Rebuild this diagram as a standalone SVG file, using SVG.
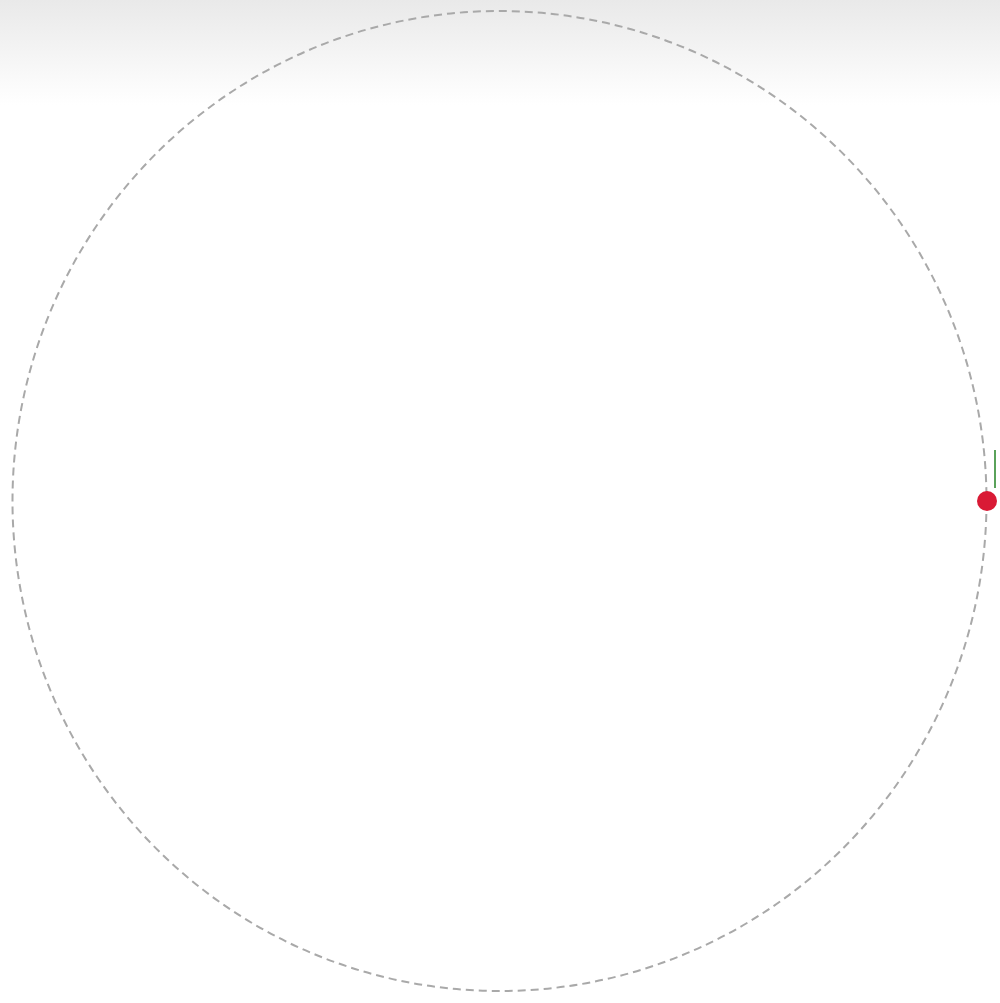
<svg xmlns="http://www.w3.org/2000/svg" width="1000" height="1003" viewBox="0 0 1000 1003">
<style>
.orbit{fill:none;stroke:#a9a9a9;stroke-width:2;stroke-dasharray:8 5}
.dot{fill:#d91a35}
.mark{stroke:#5aa25a;stroke-width:2}
</style>
<defs>
<linearGradient id="bg" x1="0" y1="0" x2="0" y2="1">
<stop offset="0" stop-color="#e9e9e9"/>
<stop offset="1" stop-color="#ffffff"/>
</linearGradient>
</defs>
<rect width="1000" height="1003" fill="#ffffff"/>
<rect width="1000" height="105" fill="url(#bg)"/>
<g id="orbit"><ellipse class="orbit" cx="499.5" cy="501" rx="487" ry="490"/></g>
<g id="marker"><line class="mark" x1="995" y1="450" x2="995" y2="488"/></g>
<g id="point"><circle class="dot" cx="987" cy="501" r="10"/></g>
</svg>
